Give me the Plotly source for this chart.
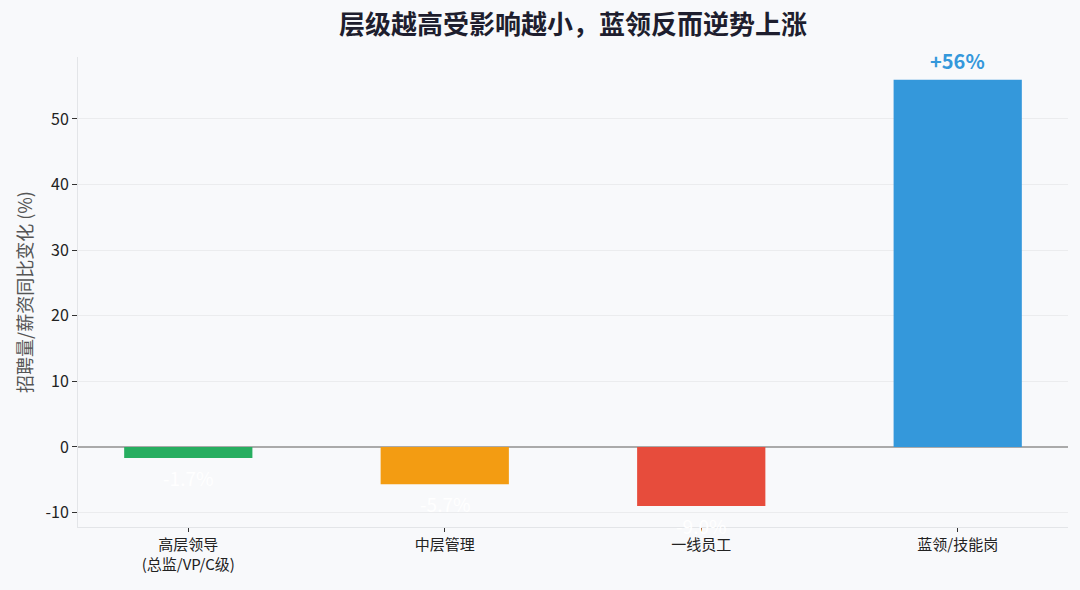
import plotly.graph_objects as go

categories = ['高层领导<br>(总监/VP/C级)', '中层管理', '一线员工', '蓝领/技能岗']
changes = [-1.7, -5.7, -9.0, 56]
labels = ['-1.7%', '-5.7%', '-9.0%', '+56%']
colors = ['#27ae60', '#f39c12', '#e74c3c', '#3498db']
y_ticks = [-10, 0, 10, 20, 30, 40, 50]

font_cn = 'Noto Sans CJK SC'
bg = '#f8f9fb'

fig = go.Figure()

fig.add_trace(go.Bar(
    x=list(range(len(categories))),
    y=changes,
    width=0.5,
    marker_color=colors,
    marker_line_width=0,
    showlegend=False,
))

# value labels: blue above positive bars, white below negative ones
annotations = []
for i, (v, lab) in enumerate(zip(changes, labels)):
    if v >= 0:
        annotations.append(dict(
            x=i, y=v, text='<b>' + lab + '</b>', showarrow=False,
            yshift=19, font=dict(family=font_cn, size=20, color='#3498db')
        ))
    else:
        annotations.append(dict(
            x=i, y=v, text=lab, showarrow=False,
            yshift=-19, font=dict(family=font_cn, size=19, color='white')
        ))

fig.update_layout(
    width=1080, height=590,
    paper_bgcolor=bg,
    plot_bgcolor=bg,
    margin=dict(l=78, r=12, t=57, b=63),
    font=dict(family=font_cn, color='#222222', size=15),
    title=dict(
        text='<b>层级越高受影响越小，蓝领反而逆势上涨</b>',
        xref='paper', x=0.5, xanchor='center', y=0.958, yanchor='middle',
        font=dict(family=font_cn, size=26, color='#1e1e2e'),
    ),
    xaxis=dict(
        range=[-0.43, 3.43],
        tickvals=list(range(len(categories))),
        ticktext=categories,
        showgrid=False,
        zeroline=False,
        showline=True, linecolor='#e3e5e8', linewidth=1,
        ticks='outside', ticklen=4, tickcolor='#333333', tickwidth=1,
        tickfont=dict(family=font_cn, size=15, color='#222222'),
    ),
    yaxis=dict(
        range=[-12.2, 59.45],
        tickvals=y_ticks,
        ticktext=[str(t) for t in y_ticks],
        showgrid=True, gridcolor='#ebecee', gridwidth=1,
        zeroline=True, zerolinecolor='#aaaaaa', zerolinewidth=1.5,
        showline=True, linecolor='#e3e5e8', linewidth=1,
        ticks='outside', ticklen=5, tickcolor='#333333', tickwidth=1,
        tickfont=dict(family=font_cn, size=16, color='#222222'),
        title=dict(text='招聘量/薪资同比变化 (%)',
                   font=dict(family=font_cn, size=18, color='#555555'),
                   standoff=8),
    ),
    annotations=annotations,
)

fig.write_html('out.html',
               config={'displayModeBar': False},
               post_script="document.body.style.margin='0';"
                           "document.body.style.background='" + bg + "';")
